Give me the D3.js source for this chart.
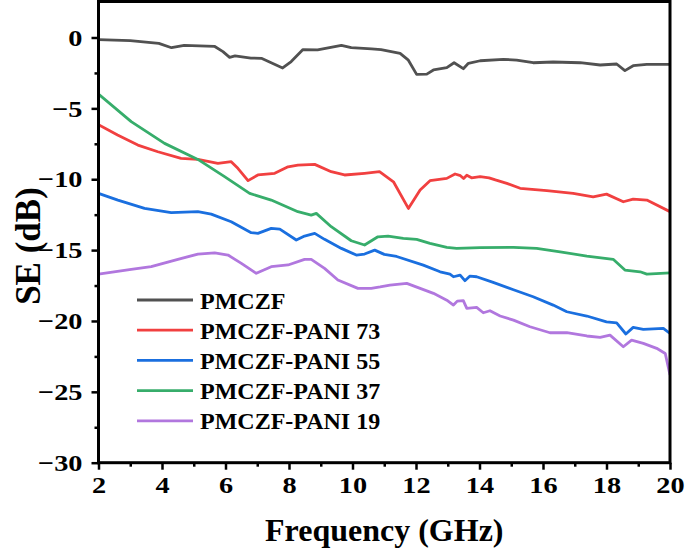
<!DOCTYPE html>
<html>
<head>
<meta charset="utf-8">
<script src="https://cdn.jsdelivr.net/npm/d3@7"></script>
<style>
  html, body { margin: 0; padding: 0; background: #fff; }
  svg { display: block; }
  text { font-family: "Liberation Serif", "Times New Roman", serif; font-weight: bold; fill: #000; }
</style>
</head>
<body>
<svg id="chart" width="685" height="552"></svg>
<script>
// ---- Data (Frequency GHz, SE dB) ----
const seriesNames = ["PMCZF", "PMCZF-PANI 73", "PMCZF-PANI 55", "PMCZF-PANI 37", "PMCZF-PANI 19"];
const seriesColors = ["#515151", "#F14040", "#1A6FDF", "#37AD6B", "#B177DE"];

const pmczf = [[2.0,-0.15],[3.0,-0.22],[3.9,-0.41],[4.3,-0.72],[4.7,-0.55],[5.65,-0.62],[5.92,-1.0],[6.13,-1.4],[6.3,-1.3],[6.8,-1.45],[7.13,-1.47],[7.8,-2.15],[8.07,-1.7],[8.44,-0.85],[8.9,-0.88],[9.65,-0.55],[9.96,-0.72],[10.6,-0.8],[10.9,-0.85],[11.5,-1.12],[11.76,-1.6],[12.02,-2.6],[12.34,-2.58],[12.55,-2.29],[12.97,-2.13],[13.2,-1.78],[13.49,-2.2],[13.65,-1.82],[14.02,-1.64],[14.75,-1.54],[15.17,-1.59],[15.69,-1.78],[16.32,-1.73],[17.17,-1.78],[17.8,-1.94],[18.32,-1.87],[18.58,-2.34],[18.84,-1.99],[19.27,-1.89],[20.0,-1.89]];

const pani73 = [[2.0,-6.15],[2.6,-6.88],[3.24,-7.59],[3.87,-8.06],[4.6,-8.53],[5.13,-8.6],[5.76,-8.88],[6.18,-8.76],[6.39,-9.23],[6.71,-10.1],[7.02,-9.7],[7.55,-9.58],[7.97,-9.12],[8.28,-9.0],[8.81,-8.95],[9.33,-9.47],[9.75,-9.7],[10.38,-9.58],[10.85,-9.47],[11.29,-10.18],[11.76,-12.06],[12.13,-10.76],[12.44,-10.1],[12.97,-9.94],[13.23,-9.63],[13.4,-9.75],[13.5,-9.95],[13.6,-9.72],[13.75,-9.9],[14.02,-9.82],[14.3,-9.9],[14.5,-10.05],[14.86,-10.29],[15.28,-10.64],[16.12,-10.81],[16.95,-11.0],[17.58,-11.24],[18.0,-11.05],[18.53,-11.59],[18.84,-11.4],[19.27,-11.47],[20.0,-12.29]];

const pani55 = [[2.0,-11.0],[2.61,-11.47],[3.45,-12.06],[4.29,-12.36],[5.13,-12.29],[5.55,-12.46],[6.18,-13.0],[6.81,-13.77],[7.02,-13.82],[7.44,-13.47],[7.71,-13.52],[8.23,-14.29],[8.49,-14.01],[8.81,-13.82],[9.12,-14.24],[9.65,-14.88],[10.12,-15.35],[10.38,-15.28],[10.7,-15.0],[11.0,-15.3],[11.39,-15.45],[12.23,-16.06],[12.76,-16.53],[13.07,-16.69],[13.18,-16.88],[13.39,-16.76],[13.54,-17.16],[13.7,-16.83],[13.91,-16.88],[14.43,-17.28],[15.07,-17.8],[15.69,-18.29],[16.32,-18.88],[16.75,-19.35],[17.38,-19.65],[18.0,-20.06],[18.32,-20.13],[18.61,-20.92],[18.84,-20.45],[19.16,-20.59],[19.79,-20.52],[20.0,-20.88]];

const pani37 = [[2.0,-4.0],[3.03,-5.94],[4.08,-7.47],[5.13,-8.6],[5.97,-9.82],[6.76,-11.0],[7.44,-11.47],[8.28,-12.29],[8.7,-12.53],[8.86,-12.41],[9.33,-13.35],[9.96,-14.34],[10.38,-14.64],[10.8,-14.06],[11.12,-14.01],[11.6,-14.17],[12.02,-14.24],[12.44,-14.52],[12.97,-14.81],[13.28,-14.88],[14.02,-14.83],[15.07,-14.81],[15.8,-14.88],[16.54,-15.12],[17.38,-15.42],[18.21,-15.65],[18.58,-16.41],[19.06,-16.53],[19.27,-16.69],[20.0,-16.6]];

const pani19 = [[2.0,-16.69],[3.03,-16.36],[3.66,-16.17],[4.5,-15.65],[5.13,-15.28],[5.66,-15.19],[6.08,-15.35],[6.5,-15.94],[6.97,-16.64],[7.44,-16.17],[7.97,-16.05],[8.49,-15.65],[8.7,-15.65],[9.12,-16.29],[9.54,-17.11],[10.17,-17.7],[10.59,-17.7],[10.87,-17.6],[11.18,-17.47],[11.71,-17.35],[12.13,-17.7],[12.55,-18.05],[12.97,-18.53],[13.18,-18.88],[13.3,-18.6],[13.49,-18.57],[13.6,-19.11],[13.91,-19.04],[14.12,-19.42],[14.33,-19.28],[14.65,-19.65],[15.07,-19.94],[15.59,-20.41],[16.22,-20.83],[16.75,-20.83],[17.38,-21.06],[17.8,-21.16],[18.11,-21.0],[18.53,-21.82],[18.79,-21.35],[19.16,-21.58],[19.58,-21.93],[19.85,-22.29],[20.0,-23.8]];

const allSeries = [pmczf, pani73, pani55, pani37, pani19];

const xTicks = [2, 4, 6, 8, 10, 12, 14, 16, 18, 20];
const xMinorTicks = [3, 5, 7, 9, 11, 13, 15, 17, 19];
const yTicks = [0, -5, -10, -15, -20, -25, -30];
const yMinorTicks = [-2.5, -7.5, -12.5, -17.5, -22.5, -27.5];
const xTitle = "Frequency (GHz)";
const yTitle = "SE (dB)";

// ---- Layout ----
const svg = d3.select("#chart");
const mLeft = 98.5, mRight = 670, mTop = 1.5, mBottom = 462.7;
const x = d3.scaleLinear().domain([2, 20]).range([mLeft, mRight]);
const y = d3.scaleLinear().domain([-30, 2.54]).range([mBottom, mTop]);
const tickScale = 1.18;

// minor ticks
svg.append("g").attr("transform", `translate(0,${mBottom})`)
  .call(d3.axisBottom(x).tickValues(xMinorTicks).tickSize(4).tickFormat(""))
  .call(g => g.select(".domain").remove())
  .call(g => g.selectAll("line").attr("stroke", "#000").attr("stroke-width", 2.5));
svg.append("g").attr("transform", `translate(${mLeft},0)`)
  .call(d3.axisLeft(y).tickValues(yMinorTicks).tickSize(4).tickFormat(""))
  .call(g => g.select(".domain").remove())
  .call(g => g.selectAll("line").attr("stroke", "#000").attr("stroke-width", 2.5));

// major ticks
const xAxis = svg.append("g").attr("transform", `translate(0,${mBottom})`)
  .call(d3.axisBottom(x).tickValues(xTicks).tickSize(7).tickPadding(6).tickFormat(d3.format("d")));
xAxis.select(".domain").remove();
xAxis.selectAll("line").attr("stroke", "#000").attr("stroke-width", 2.5);
xAxis.selectAll("text")
  .attr("font-size", 24).attr("font-family", "Liberation Serif").attr("font-weight", "bold")
  .attr("fill", "#000")
  .attr("transform", `scale(${tickScale},1)`);

const yAxis = svg.append("g").attr("transform", `translate(${mLeft},0)`)
  .call(d3.axisLeft(y).tickValues(yTicks).tickSize(7).tickPadding(9).tickFormat(d => d3.format("d")(d).replace("-", "\u2212")));
yAxis.select(".domain").remove();
yAxis.selectAll("line").attr("stroke", "#000").attr("stroke-width", 2.5);
yAxis.selectAll("text")
  .attr("font-size", 24).attr("font-family", "Liberation Serif").attr("font-weight", "bold")
  .attr("fill", "#000")
  .attr("x", -16 / tickScale)
  .attr("transform", `scale(${tickScale},1)`);

// clip
svg.append("defs").append("clipPath").attr("id", "clip")
  .append("rect").attr("x", mLeft).attr("y", mTop).attr("width", mRight - mLeft).attr("height", mBottom - mTop);

const line = d3.line().x(d => x(d[0])).y(d => y(d[1]));
svg.append("g").attr("clip-path", "url(#clip)")
  .selectAll("path").data(allSeries).join("path")
  .attr("d", line)
  .attr("fill", "none")
  .attr("stroke", (d, i) => seriesColors[i])
  .attr("stroke-width", 2.8)
  .attr("stroke-linejoin", "round");

// frame
svg.append("rect").attr("x", mLeft).attr("y", mTop).attr("width", mRight - mLeft).attr("height", mBottom - mTop)
  .attr("fill", "none").attr("stroke", "#000").attr("stroke-width", 3);

// legend
const legend = svg.append("g");
seriesNames.forEach((name, i) => {
  const ly = 300 + i * 30.2;
  legend.append("line").attr("x1", 137).attr("x2", 193).attr("y1", ly).attr("y2", ly)
    .attr("stroke", seriesColors[i]).attr("stroke-width", 2.8);
  legend.append("text").attr("x", 200).attr("y", ly + 8.5).attr("font-size", 24).text(name);
});

// axis titles
svg.append("text").attr("x", (mLeft + mRight) / 2).attr("y", 541)
  .attr("text-anchor", "middle").attr("font-size", 32).text(xTitle);
svg.append("text").attr("transform", `translate(40,${246}) rotate(-90)`)
  .attr("text-anchor", "middle").attr("font-size", 35).text(yTitle);
</script>
</body>
</html>
